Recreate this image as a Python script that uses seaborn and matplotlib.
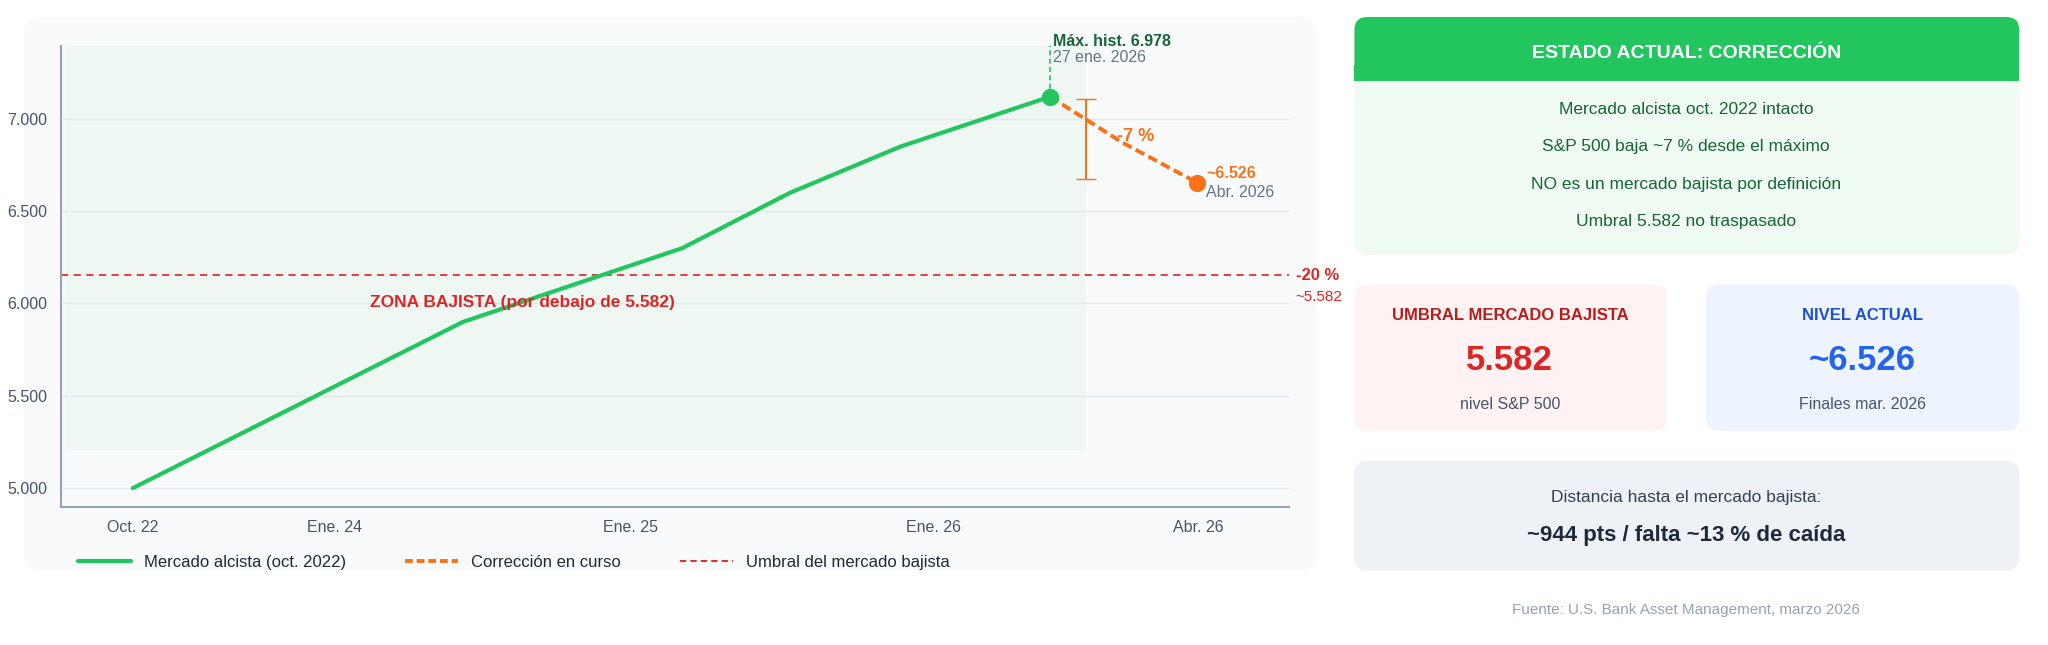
import numpy as np
import pandas as pd
import seaborn as sns
import matplotlib.pyplot as plt
from matplotlib.patches import FancyBboxPatch, Rectangle
from matplotlib.lines import Line2D

# data
tick_pos = [0.0, 1.55, 3.83, 6.16, 8.2]
tick_labels = ["Oct. 22", "Ene. 24", "Ene. 25", "Ene. 26", "Abr. 26"]
bull_x = [0.0, 2.54, 4.23, 5.06, 5.91, 7.06]
bull_y = [5000, 5900, 6300, 6600, 6850, 7120]
corr_x = [7.06, 7.62, 8.19]
corr_y = [7120, 6870, 6655]
threshold_y = 6152
err_x, err_lo, err_hi = 7.34, 6675, 7105

W, H = 1568, 494
fig = plt.figure(figsize=(20.48, 6.45), dpi=100)
sns.set_style("white")
plt.rcParams['font.family'] = ['Liberation Sans', 'DejaVu Sans']


def fbox(x0, y0, x1, y1, color, r=10, ec="none"):
    p = FancyBboxPatch((x0 / W, 1 - y1 / H), (x1 - x0) / W, (y1 - y0) / H,
                       boxstyle=f"round,pad=0,rounding_size={r / W}",
                       transform=fig.transFigure, fc=color, ec=ec, zorder=-5,
                       mutation_aspect=W / H)
    fig.patches.append(p)


def ftext(x, y, s, **kw):
    fig.text(x / W, 1 - y / H, s, ha="center", va="center", **kw)


# chart card
fbox(18, 13, 1008, 437, "#f8fafc", r=14)

ax = fig.add_axes([47 / W, 1 - 388 / H, 940 / W, 353 / H])
ax.set_zorder(2)
ax.set_facecolor("none")
xmin, xmax = -0.55, 8.9
ax.set_xlim(xmin, xmax)
ax.set_ylim(4900, 7396)
ax.add_patch(Rectangle((xmin + 0.03, 5205), 7.34 - xmin - 0.03, 7410 - 5205,
                       fc="#e8f5ec", alpha=0.55, ec="none", zorder=0))
for v in [5000, 5500, 6000, 6500, 7000]:
    ax.axhline(v, color="#e2e8f0", lw=1, zorder=0.5)
ax.axhline(threshold_y, color="#e03131", lw=1.3, ls=(0, (4, 3)), zorder=2)

bull = pd.DataFrame({"x": bull_x, "y": bull_y})
corr = pd.DataFrame({"x": corr_x, "y": corr_y})
sns.lineplot(data=bull, x="x", y="y", ax=ax, color="#22c55e", lw=3, zorder=3)
sns.lineplot(data=corr, x="x", y="y", ax=ax, color="#f97316", lw=2.8,
             ls=(0, (2.5, 1.2)), zorder=3)
ax.scatter([bull_x[-1]], [bull_y[-1]], s=130, color="#22c55e", zorder=4)
ax.scatter([corr_x[-1]], [corr_y[-1]], s=130, color="#f97316", zorder=4)
ax.errorbar([err_x], [(err_lo + err_hi) / 2], yerr=[[(err_hi - err_lo) / 2]],
            color="#f97316", capsize=7, lw=1.5, zorder=3)
ax.plot([bull_x[-1]] * 2, [7120, 7396], color="#22c55e", lw=1.2, ls=(0, (3, 2)))

ax.text(bull_x[-1] + 0.02, 7380, "Máx. hist. 6.978", color="#166534",
        fontsize=11.5, fontweight="bold", va="bottom")
ax.text(bull_x[-1] + 0.02, 7310, "27 ene. 2026", color="#64748b", fontsize=11.5)
ax.text(7.72, 6880, "-7 %", color="#f97316", fontsize=13, fontweight="bold", ha="center")
ax.text(corr_x[-1] + 0.07, 6665, "~6.526", color="#f97316", fontsize=11.5,
        fontweight="bold", va="bottom")
ax.text(corr_x[-1] + 0.07, 6640, "Abr. 2026", color="#64748b", fontsize=11.5, va="top")
ax.text(3.0, 5980, "ZONA BAJISTA (por debajo de 5.582)", color="#dc2626",
        fontsize=12.5, fontweight="bold", ha="center")
ax.text(xmax + 0.05, threshold_y, "-20 %", color="#dc2626", fontsize=12,
        fontweight="bold", va="center", clip_on=False)
ax.text(xmax + 0.05, threshold_y - 115, "~5.582", color="#dc2626", fontsize=11,
        va="center", clip_on=False)

ax.set_xticks(tick_pos, tick_labels)
ax.set_yticks([5000, 5500, 6000, 6500, 7000], ["5.000", "5.500", "6.000", "6.500", "7.000"])
ax.tick_params(colors="#475569", labelsize=11.5, length=0, pad=10)
ax.set_xlabel("")
ax.set_ylabel("")
for s in ["top", "right"]:
    ax.spines[s].set_visible(False)
for s in ["left", "bottom"]:
    ax.spines[s].set_color("#94a3b8")
    ax.spines[s].set_linewidth(1.5)

handles = [Line2D([], [], color="#22c55e", lw=3),
           Line2D([], [], color="#f97316", lw=2.8, ls=(0, (2, 1))),
           Line2D([], [], color="#e03131", lw=1.5, ls=(0, (3, 2)))]
fig.legend(handles, ["Mercado alcista (oct. 2022)", "Corrección en curso",
                     "Umbral del mercado bajista"],
           loc="center left", bbox_to_anchor=(48 / W, 1 - 431 / H), ncol=3,
           frameon=False, fontsize=12, handlelength=3.2, columnspacing=3.5,
           labelcolor="#1f2937")

# status card
fbox(1037, 13, 1546, 195, "#effbf3", r=10)
fbox(1037, 13, 1546, 62, "#22c55e", r=10)
fig.patches.append(Rectangle((1037 / W, 1 - 62 / H), 509 / W, 12 / H,
                             transform=fig.transFigure, fc="#22c55e", ec="none", zorder=-4))
ftext(1291, 41, "ESTADO ACTUAL: CORRECCIÓN", color="white", fontsize=14, fontweight="bold")
for i, line in enumerate(["Mercado alcista oct. 2022 intacto",
                          "S&P 500 baja ~7 % desde el máximo",
                          "NO es un mercado bajista por definición",
                          "Umbral 5.582 no traspasado"]):
    ftext(1291, 84 + i * 28.5, line, color="#166534", fontsize=12.5)

fbox(1037, 218, 1276, 330, "#fef2f2", r=10)
ftext(1156, 242, "UMBRAL MERCADO BAJISTA", color="#b91c1c", fontsize=12, fontweight="bold")
ftext(1156, 276, "5.582", color="#dc2626", fontsize=25, fontweight="bold")
ftext(1156, 310, "nivel S&P 500", color="#475569", fontsize=11.5)

fbox(1306, 218, 1546, 330, "#eef4fe", r=10)
ftext(1426, 242, "NIVEL ACTUAL", color="#1d4ed8", fontsize=12, fontweight="bold")
ftext(1426, 276, "~6.526", color="#2563eb", fontsize=25, fontweight="bold")
ftext(1426, 310, "Finales mar. 2026", color="#475569", fontsize=11.5)

fbox(1037, 353, 1546, 437, "#eef2f6", r=10)
ftext(1291, 381, "Distancia hasta el mercado bajista:", color="#334155", fontsize=12.5)
ftext(1291, 410, "~944 pts / falta ~13 % de caída", color="#1e293b", fontsize=16,
      fontweight="bold")

ftext(1291, 467, "Fuente: U.S. Bank Asset Management, marzo 2026", color="#94a3b8", fontsize=11)

fig.savefig("out.png", dpi=100, facecolor="white")
